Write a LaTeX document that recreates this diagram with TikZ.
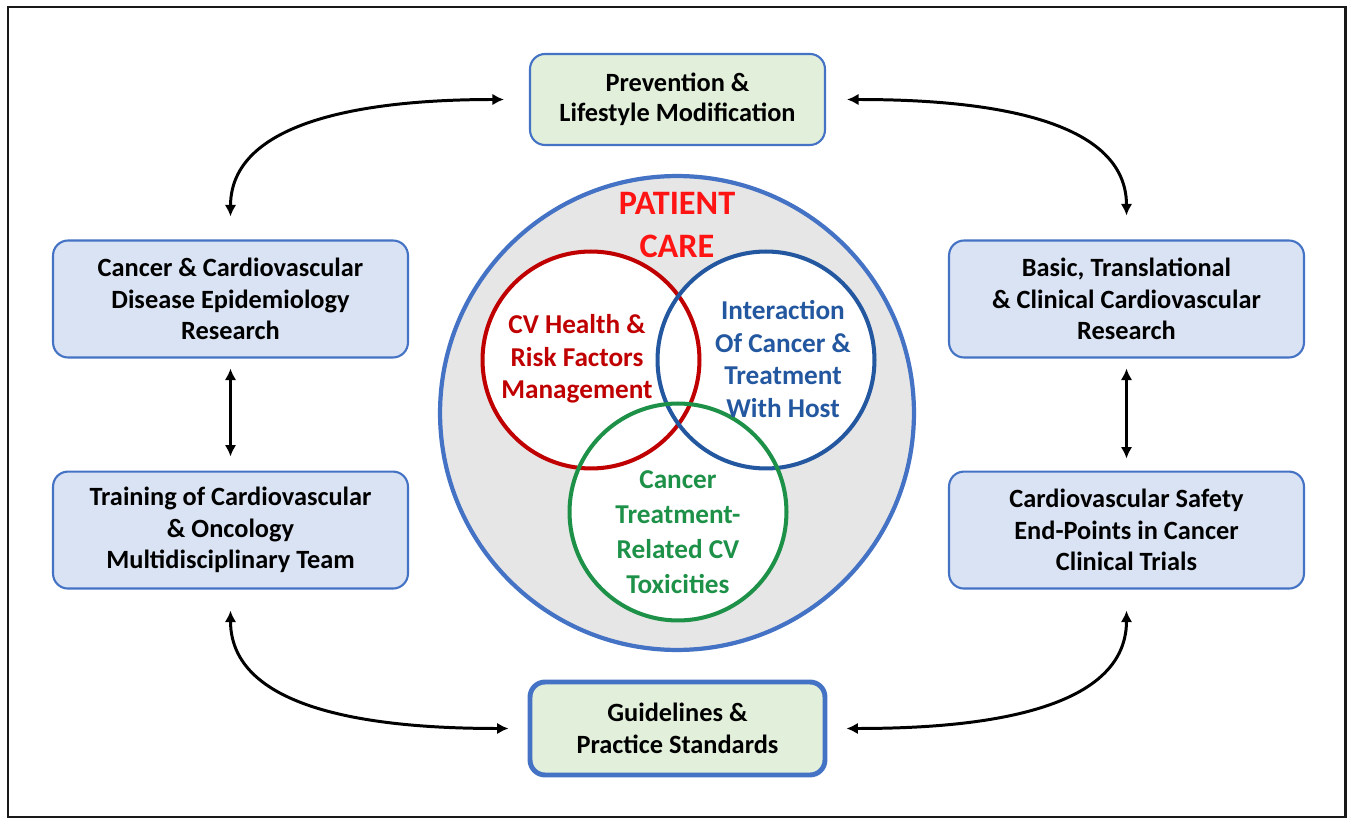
\documentclass[tikz,border=0pt]{standalone}
\usepackage{fontspec}
\setmainfont{Carlito}
\usetikzlibrary{positioning,arrows.meta}
\definecolor{edgeblue}{HTML}{4472C4}
\definecolor{boxblue}{HTML}{DAE3F3}
\definecolor{boxgreen}{HTML}{E2EFDA}
\definecolor{caregray}{HTML}{E7E6E6}
\definecolor{cvred}{HTML}{C00000}
\definecolor{hostblue}{HTML}{23579F}
\definecolor{toxgreen}{HTML}{1E9149}
\definecolor{carered}{HTML}{FF1414}

\begin{document}
\begin{tikzpicture}[x=0.02cm,y=0.02cm]
\tikzstyle{box}=[rectangle, rounded corners=0.3cm, draw=edgeblue, line width=1.2pt, fill=boxblue, minimum width=7.1cm, minimum height=2.34cm, align=center, font=\fontsize{15}{18}\selectfont\bfseries]
\tikzstyle{greenbox}=[box, fill=boxgreen, minimum width=5.9cm, minimum height=1.82cm, font=\fontsize{15}{17}\selectfont\bfseries]
\tikzstyle{ring}=[circle, line width=2.3pt, minimum size=4.34cm, inner sep=0pt]
\tikzstyle{venn}=[align=center, font=\fontsize{15.5}{18.5}\selectfont\bfseries]
\tikzstyle{connect}=[{Latex[length=2.3mm,width=2.3mm]}-{Latex[length=2.3mm,width=2.3mm]}, line width=1.7pt]
  \useasboundingbox (0,0) rectangle (1353,819);
  \fill[white] (0,0) rectangle (1353,819);
  \draw[line width=1.7pt, black!90] (8,2) rectangle (1345,812);

  % outer boxes
  \node[greenbox] (prev) at (677.5,719.5) {Prevention \&\\Lifestyle Modification};
  \node[greenbox, line width=2.8pt, minimum height=1.86cm, font=\fontsize{15}{18}\selectfont\bfseries] (guide) at (677.5,90.5) {Guidelines \&\\Practice Standards};
  \node[box] (epi) at (230.5,520) {Cancer \& Cardiovascular\\Disease Epidemiology\\Research};
  \node[box] (train) [below=2.24cm of epi] {Training of Cardiovascular\\\& Oncology\\Multidisciplinary Team};
  \node[box] (basic) at (1126.5,520) {Basic, Translational\\\& Clinical Cardiovascular\\Research};
  \node[box] (safety) [below=2.24cm of basic] {Cardiovascular Safety\\End-Points in Cancer\\Clinical Trials};

  % patient care
  \node[circle, draw=edgeblue, fill=caregray, line width=2.4pt, minimum size=9.48cm] (care) at (677,406) {};
  \node[ring, fill=white] at (591,459) {};
  \node[ring, fill=white] at (766,459) {};
  \node[ring, fill=white] at (678,307) {};
  \node[ring, draw=cvred] (cvh) at (591,459) {};
  \node[ring, draw=hostblue] (host) at (766,459) {};
  \node[ring, draw=toxgreen] (tox) at (678,307) {};
  \node[align=center, text=carered, font=\fontsize{19.5}{24}\selectfont\bfseries] (pc) at (677,594) {PATIENT\\CARE};
  \node[venn, text=cvred] (cvhtext) at (577,460) {CV Health \&\\Risk Factors\\Management};
  \node[venn, text=hostblue] (hosttext) at (783,460) {Interaction\\Of Cancer \&\\Treatment\\With Host};
  \node[venn, text=toxgreen, font=\fontsize{15.5}{20}\selectfont\bfseries] (toxtext) at (678,287) {Cancer\\Treatment-\\Related CV\\Toxicities};

  % connectors
  \draw[connect, shorten <=0.5cm, shorten >=0.46cm] (prev.west) to[out=180,in=90] (epi.north);
  \draw[connect, shorten <=0.42cm, shorten >=0.48cm] (prev.east) to[out=0,in=90] (basic.north);
  \draw[connect, shorten <=0.42cm, shorten >=0.38cm] (train.south) to[out=-90,in=180] (guide.west);
  \draw[connect, shorten <=0.42cm, shorten >=0.38cm] (safety.south) to[out=-90,in=0] (guide.east);
  \draw[connect, shorten <=0.2cm, shorten >=0.28cm] (epi.south) -- (train.north);
  \draw[connect, shorten <=0.2cm, shorten >=0.24cm] (basic.south) -- (safety.north);
\end{tikzpicture}
\end{document}
